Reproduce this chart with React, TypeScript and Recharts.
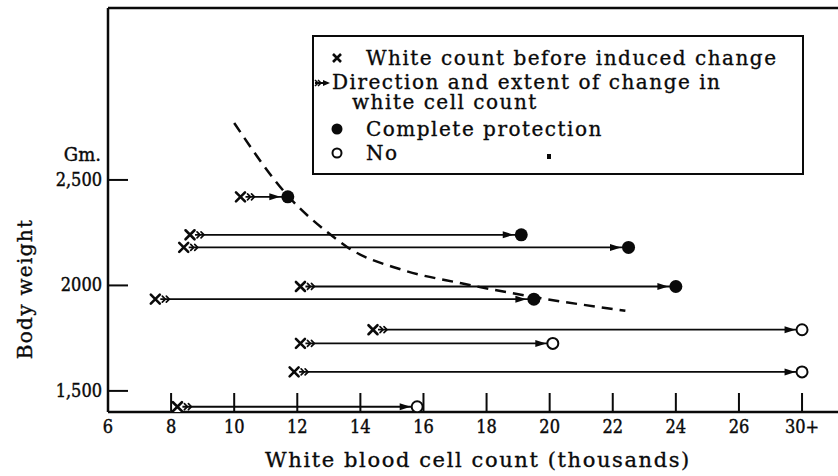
import { ComposedChart, XAxis, YAxis, Scatter, Line, ReferenceLine } from 'recharts'

// white cell count (thousands) before the induced change
const startCounts = [10.2, 8.6, 8.4, 12.1, 7.5, 14.4, 12.1, 11.9, 8.2]
// count after the change; 28 is where the "30+" tick sits
const endCounts = [11.7, 19.1, 22.5, 24.0, 19.5, 28, 20.1, 28, 15.8]
const bodyWeights = [2420, 2240, 2180, 1995, 1935, 1790, 1725, 1590, 1425]
const fullyProtected = [true, true, true, true, true, false, false, false, false]

// dashed boundary curve
const curveCounts = [10.0, 11.7, 13.1, 13.6, 15.3, 17.2, 19.5, 22.4]
const curveWeights = [2770, 2425, 2235, 2180, 2075, 2010, 1945, 1880]

const xTicks = [6, 8, 10, 12, 14, 16, 18, 20, 22, 24, 26, 28]
const xTickLabels = ['6', '8', '10', '12', '14', '16', '18', '20', '22', '24', '26', '30+']
const yTicks = [1500, 2000, 2500]
const yTickLabels = ['1,500', '2000', '2,500']

const INK = '#0a0a0a'
const FONT = "'DejaVu Serif', serif"
const NUM_FONT = "'DejaVu Serif Condensed', 'DejaVu Serif', serif"

const starts = startCounts.map((x, i) => ({ x, y: bodyWeights[i] }))
const ends = endCounts.map((x, i) => ({ x, y: bodyWeights[i], filled: fullyProtected[i] }))
const curve = curveCounts.map((x, i) => ({ x, y: curveWeights[i] }))

const StartMark = ({ cx, cy }: any) => (
  <g stroke={INK} fill="none" strokeLinecap="round">
    <rect x={cx - 7} y={cy - 6} width={12} height={12} fill="#fff" stroke="none" />
    <path d={`M${cx - 4.5},${cy - 4.5}L${cx + 4.5},${cy + 4.5}M${cx - 4.5},${cy + 4.5}L${cx + 4.5},${cy - 4.5}`} strokeWidth={2.6} />
    <path
      d={`M${cx + 7},${cy - 3}L${cx + 10},${cy}L${cx + 7},${cy + 3}M${cx + 11},${cy - 3}L${cx + 14},${cy}L${cx + 11},${cy + 3}`}
      strokeWidth={1.7}
    />
  </g>
)

const EndMark = ({ cx, cy, payload }: any) => {
  const r = payload.filled ? 6.5 : 5.5
  const tip = cx - r - 1
  return (
    <g>
      <path d={`M${tip - 11},${cy - 3.5}L${tip},${cy}L${tip - 11},${cy + 3.5}Z`} fill={INK} />
      <circle
        cx={cx}
        cy={cy}
        r={r}
        fill={payload.filled ? INK : '#fff'}
        stroke={INK}
        strokeWidth={payload.filled ? 0 : 2}
      />
    </g>
  )
}

const XTick = ({ x, y, payload }: any) => {
  const i = xTicks.indexOf(payload.value)
  return (
    <g>
      {payload.value !== 6 && <line x1={x} x2={x} y1={y} y2={y - 19} stroke={INK} strokeWidth={2} />}
      <text
        x={x}
        y={y + 21}
        textAnchor="middle"
        fontFamily={NUM_FONT}
        fontSize={18}
        fill={INK}
        stroke={INK}
        strokeWidth={0.4}
      >
        {xTickLabels[i]}
      </text>
    </g>
  )
}

const YTick = ({ x, y, payload }: any) => {
  const i = yTicks.indexOf(payload.value)
  return (
    <g>
      <line x1={x} x2={x + 20} y1={y} y2={y} stroke={INK} strokeWidth={2} />
      <text
        x={x - 6}
        y={y + 6}
        textAnchor="end"
        fontFamily={NUM_FONT}
        fontSize={18}
        fill={INK}
        stroke={INK}
        strokeWidth={0.4}
      >
        {yTickLabels[i]}
      </text>
      {payload.value === 2500 && (
        <text
          x={x - 7}
          y={y - 19}
          textAnchor="end"
          fontFamily={FONT}
          fontSize={18}
          fill={INK}
          stroke={INK}
          strokeWidth={0.4}
        >
          Gm.
        </text>
      )}
    </g>
  )
}

const legendText: React.CSSProperties = {
  position: 'absolute',
  fontFamily: FONT,
  fontSize: 20,
  letterSpacing: 1.5,
  lineHeight: '16px',
  color: INK,
  whiteSpace: 'nowrap',
  WebkitTextStroke: '0.35px #0a0a0a',
}

function Legend() {
  return (
    <div
      style={{
        position: 'absolute',
        left: 312,
        top: 35,
        width: 488,
        height: 136,
        border: `2px solid ${INK}`,
        background: '#fff',
      }}
    >
      <svg width={488} height={136} style={{ position: 'absolute', left: 0, top: 0 }}>
        <path d="M19,17L27,25M19,25L27,17" stroke={INK} strokeWidth={2.6} />
        <line x1={1} x2={14} y1={46} y2={46} stroke={INK} strokeWidth={2} />
        <path d="M1,43L4,46L1,49M4,43L7,46L4,49" stroke={INK} strokeWidth={1.5} fill="none" />
        <path d="M9,43L16,46L9,49Z" fill={INK} />
        <circle cx={23} cy={92} r={5.5} fill={INK} />
        <circle cx={23} cy={116} r={4.5} fill="#fff" stroke={INK} strokeWidth={2} />
        <rect x={233} y={117} width={4} height={5} fill={INK} />
      </svg>
      <span style={{ ...legendText, left: 52, top: 13 }}>White count before induced change</span>
      <div style={{ ...legendText, left: 18, top: 35, lineHeight: '20px' }}>
        Direction and extent of change in
        <br />
        <span style={{ paddingLeft: 20 }}>white cell count</span>
      </div>
      <span style={{ ...legendText, left: 52, top: 84 }}>Complete protection</span>
      <span style={{ ...legendText, left: 52, top: 108 }}>No</span>
    </div>
  )
}

export default function App() {
  return (
    <div style={{ position: 'absolute', left: 0, top: 0, width: 838, height: 476, background: '#fff' }}>
      <ComposedChart width={838} height={476} margin={{ top: 8, right: 0, bottom: 0, left: 0 }}>
        <XAxis
          dataKey="x"
          type="number"
          domain={[6, 29.14]}
          allowDataOverflow
          ticks={xTicks}
          tick={<XTick />}
          tickSize={0}
          tickMargin={0}
          tickLine={false}
          axisLine={{ stroke: INK, strokeWidth: 2.5 }}
          height={64}
          label={{
            value: 'White blood cell count (thousands)',
            position: 'insideBottom',
            offset: 9,
            dx: 5,
            fill: INK,
            stroke: INK,
            strokeWidth: 0.35,
            fontFamily: FONT,
            fontSize: 21,
            letterSpacing: 1.6,
          }}
        />
        <YAxis
          dataKey="y"
          type="number"
          domain={[1400, 3315]}
          allowDataOverflow
          ticks={yTicks}
          tick={<YTick />}
          tickSize={0}
          tickMargin={0}
          tickLine={false}
          axisLine={{ stroke: INK, strokeWidth: 2.5 }}
          width={108}
          label={{
            content: () => (
              <text
                transform="translate(32,289) rotate(-90)"
                textAnchor="middle"
                fontFamily={FONT}
                fontSize={20}
                letterSpacing={1.3}
                fill={INK}
                stroke={INK}
                strokeWidth={0.35}
              >
                Body weight
              </text>
            ),
          }}
        />
        <ReferenceLine y={3315} stroke={INK} strokeWidth={2.5} ifOverflow="visible" />
        <Line
          data={curve}
          dataKey="y"
          type="monotone"
          stroke={INK}
          strokeWidth={2.5}
          strokeDasharray="11 7"
          dot={false}
          activeDot={false}
          isAnimationActive={false}
        />
        {starts.map((s, i) => (
          <Scatter
            key={i}
            data={[s, ends[i]]}
            dataKey="y"
            line={{ stroke: INK, strokeWidth: 1.8 }}
            shape={() => <g />}
            isAnimationActive={false}
          />
        ))}
        <Scatter data={starts} dataKey="y" shape={StartMark} isAnimationActive={false} />
        <Scatter data={ends} dataKey="y" shape={EndMark} isAnimationActive={false} />
      </ComposedChart>
      <Legend />
    </div>
  )
}
